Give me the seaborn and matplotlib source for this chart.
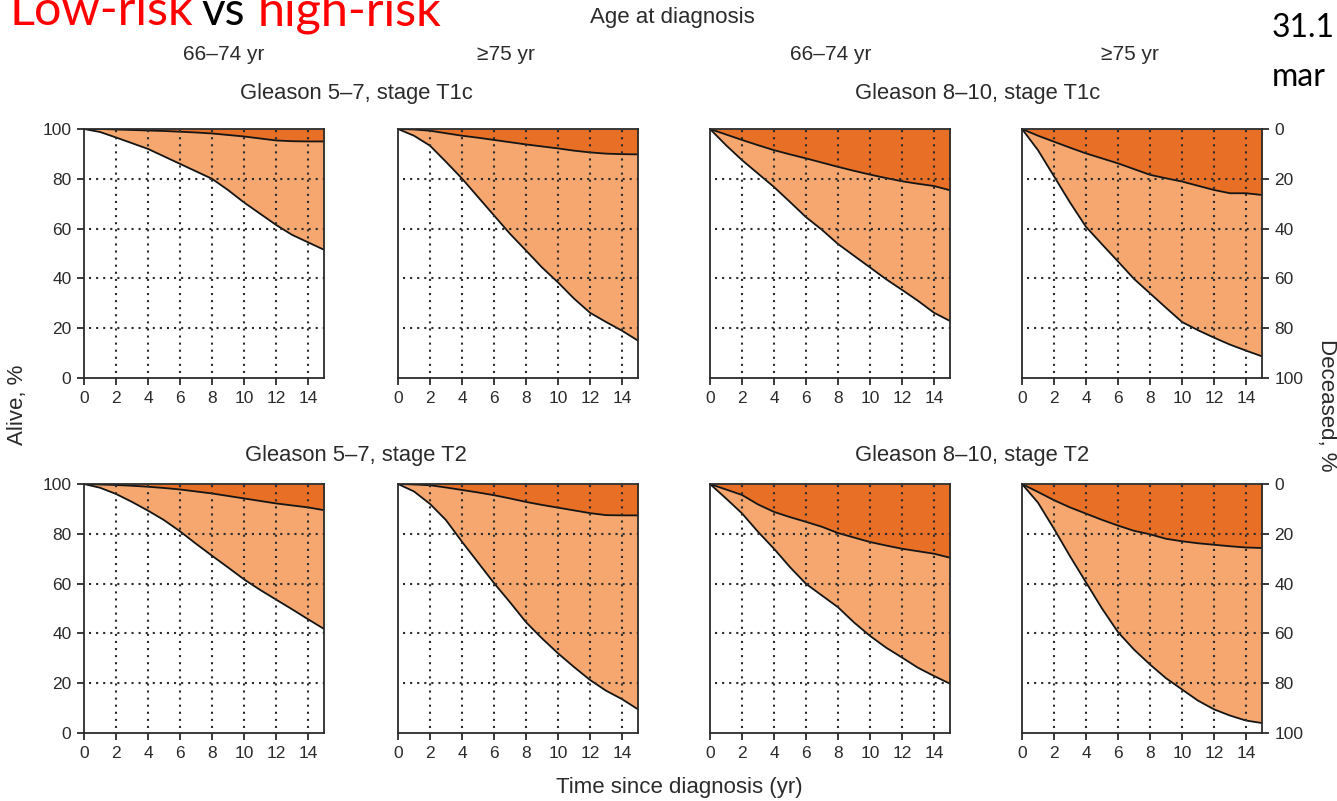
import matplotlib
matplotlib.use("Agg")
import matplotlib.pyplot as plt
import seaborn as sns

# years since diagnosis
years = list(range(16))

# alive % (lower curve) and 100 - prostate cancer deaths % (upper curve)
alive_g57_t1c_66 = [100, 98.8, 96.6, 94.3, 92.0, 89.0, 86.0, 83.0, 80.0, 75.5, 70.5, 66.0, 61.5, 57.5, 54.5, 51.5]
upper_g57_t1c_66 = [100, 100, 99.8, 99.6, 99.4, 99.2, 98.9, 98.6, 98.2, 97.6, 97.0, 96.2, 95.4, 95.1, 95.0, 95.0]
alive_g57_t1c_75 = [100, 97.3, 93.3, 86.8, 80.1, 72.7, 65.3, 57.9, 51.2, 44.4, 38.4, 31.9, 26.2, 22.5, 19.0, 15.0]
upper_g57_t1c_75 = [100, 99.8, 99.3, 98.3, 97.3, 96.5, 95.6, 94.7, 93.8, 93.0, 92.2, 91.3, 90.6, 90.1, 89.9, 89.8]
alive_g810_t1c_66 = [100, 93.5, 87.5, 82.1, 76.7, 70.7, 64.6, 59.5, 53.8, 49.1, 44.4, 39.7, 35.4, 31.0, 26.2, 22.9]
upper_g810_t1c_66 = [100, 97.8, 95.6, 93.5, 91.5, 89.8, 88.2, 86.5, 84.8, 83.2, 81.7, 80.3, 79.0, 78.0, 77.1, 75.4]
alive_g810_t1c_75 = [100, 91.5, 81.0, 70.5, 60.7, 53.7, 46.8, 39.8, 34.0, 28.2, 22.5, 19.2, 16.2, 13.4, 11.0, 8.7]
upper_g810_t1c_75 = [100, 97.3, 94.9, 92.5, 90.2, 88.2, 86.2, 83.9, 81.6, 80.2, 78.9, 77.2, 75.5, 74.2, 74.2, 73.5]

alive_g57_t2_66 = [100, 98.5, 96.0, 92.8, 89.3, 85.5, 81.0, 76.0, 71.2, 66.5, 61.7, 57.5, 53.6, 49.7, 45.7, 41.8]
upper_g57_t2_66 = [100, 99.8, 99.6, 99.3, 98.9, 98.4, 97.8, 97.0, 96.2, 95.2, 94.2, 93.2, 92.2, 91.4, 90.6, 89.5]
alive_g57_t2_75 = [100, 97.0, 92.0, 85.5, 76.8, 68.5, 60.2, 52.5, 44.5, 38.0, 32.0, 26.5, 21.3, 17.0, 13.6, 9.5]
upper_g57_t2_75 = [100, 99.8, 99.5, 98.6, 97.6, 96.6, 95.5, 94.2, 92.8, 91.6, 90.5, 89.4, 88.3, 87.5, 87.4, 87.4]
alive_g810_t2_66 = [100, 94.2, 88.2, 80.8, 74.0, 66.6, 59.9, 55.2, 50.5, 44.4, 39.0, 34.3, 30.3, 26.2, 22.9, 19.8]
upper_g810_t2_66 = [100, 97.8, 95.6, 91.8, 88.8, 86.7, 84.8, 82.8, 80.3, 78.5, 76.7, 75.3, 74.0, 73.0, 72.0, 70.4]
alive_g810_t2_75 = [100, 92.5, 82.0, 71.0, 60.5, 50.0, 40.5, 33.5, 27.5, 22.0, 17.5, 13.0, 9.5, 7.0, 5.0, 4.0]
upper_g810_t2_75 = [100, 96.8, 93.5, 90.6, 88.1, 85.6, 83.3, 81.2, 79.8, 78.0, 77.0, 76.2, 75.6, 75.0, 74.5, 74.3]

age_groups = ["66\u201374 yr", "\u226575 yr", "66\u201374 yr", "\u226575 yr"]
group_titles = ["Gleason 5\u20137, stage T1c", "Gleason 8\u201310, stage T1c",
                "Gleason 5\u20137, stage T2", "Gleason 8\u201310, stage T2"]
alive_ticks = [0, 20, 40, 60, 80, 100]
year_ticks = [0, 2, 4, 6, 8, 10, 12, 14]

rows = [
    [(alive_g57_t1c_66, upper_g57_t1c_66), (alive_g57_t1c_75, upper_g57_t1c_75),
     (alive_g810_t1c_66, upper_g810_t1c_66), (alive_g810_t1c_75, upper_g810_t1c_75)],
    [(alive_g57_t2_66, upper_g57_t2_66), (alive_g57_t2_75, upper_g57_t2_75),
     (alive_g810_t2_66, upper_g810_t2_66), (alive_g810_t2_75, upper_g810_t2_75)],
]

sns.set_theme(style="white")
plt.rcParams["font.family"] = ["Liberation Sans", "DejaVu Sans"]

W, H = 1337, 801
fig = plt.figure(figsize=(W / 100, H / 100), dpi=100)
fig.patch.set_facecolor("white")

ink = "#2b2b2b"
light = "#F5A76F"
dark = "#E86F26"

lefts = [84, 398, 710, 1022]
tops = [129, 484]
pw, ph = 240, 249

for r, row in enumerate(rows):
    for c, (alive, upper) in enumerate(row):
        ax = fig.add_axes([lefts[c] / W, 1 - (tops[r] + ph) / H, pw / W, ph / H])
        ax.fill_between(years, alive, upper, color=light, lw=0, zorder=1)
        ax.fill_between(years, upper, 100, color=dark, lw=0, zorder=1)
        sns.lineplot(x=years, y=alive, ax=ax, color="#151515", lw=1.3, zorder=2)
        sns.lineplot(x=years, y=upper, ax=ax, color="#151515", lw=1.3, zorder=2)
        ax.vlines(year_ticks[1:], 2, 100, colors=ink, linestyles=(0, (1, 2.4)), lw=1.5, zorder=3)
        ax.hlines(alive_ticks[1:-1], 0.3, 15, colors=ink, linestyles=(0, (1, 2.4)), lw=1.5, zorder=3)
        ax.set_xlim(0, 15)
        ax.set_ylim(0, 100)
        ax.set_xticks(year_ticks)
        ax.set_xlabel("")
        ax.set_ylabel("")
        for s in ax.spines.values():
            s.set_color(ink)
            s.set_linewidth(1.3)
        ax.tick_params(axis="both", direction="out", length=5, width=1.3, colors=ink,
                       labelsize=12.5, pad=4, bottom=True, left=False)
        ax.set_yticks(alive_ticks)
        if c == 0:
            ax.tick_params(axis="y", left=True)
        elif c == 3:
            ax.yaxis.tick_right()
            ax.set_yticklabels([str(100 - t) for t in alive_ticks])
            ax.tick_params(axis="y", right=True, direction="out", length=5, width=1.3)
        else:
            ax.set_yticklabels([])

def ftext(x, y, s, **kw):
    fig.text(x / W, 1 - y / H, s, color=ink, ha="center", va="center", **kw)

ftext(672, 17, "Age at diagnosis", fontsize=16)
for x, s in zip([224, 506, 831, 1130], age_groups):
    ftext(x, 55, s, fontsize=15)
for (x, y), s in zip([(356, 93), (978, 93), (356, 455), (972, 455)], group_titles):
    ftext(x, y, s, fontsize=15.8)
ftext(18, 405, "Alive, %", fontsize=16, rotation=90)
ftext(1326, 405, "Deceased, %", fontsize=16, rotation=270)
ftext(679, 788, "Time since diagnosis (yr)", fontsize=16)

# slide text around the figure
fig.text(10 / W, 1 - 25 / H, "Low-risk", color="#FF0000", fontsize=35, family="Lato",
         ha="left", va="baseline")
fig.text(201 / W, 1 - 25 / H, "vs", color="black", fontsize=33, family="Lato",
         ha="left", va="baseline")
fig.text(258 / W, 1 - 25 / H, "high-risk", color="#FF0000", fontsize=35, family="Lato",
         ha="left", va="baseline")
fig.text(1272 / W, 1 - 37 / H, "31.1", color="black", fontsize=23, family="Lato",
         ha="left", va="baseline")
fig.text(1272 / W, 1 - 86 / H, "mar", color="black", fontsize=23, family="Lato",
         ha="left", va="baseline")

fig.savefig("out.png", dpi=100)
